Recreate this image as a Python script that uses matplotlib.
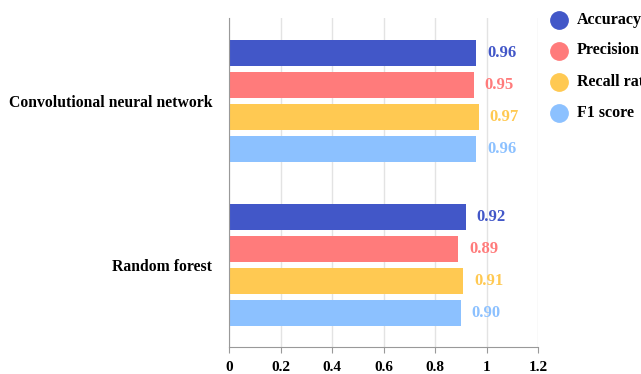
import matplotlib.pyplot as plt
from matplotlib.lines import Line2D

plt.rcParams['font.family'] = ['Liberation Serif', 'DejaVu Serif']
plt.rcParams['font.weight'] = 'bold'

models = ["Convolutional neural network", "Random forest"]
metrics = ["Accuracy", "Precision", "Recall rate", "F1 score"]
colors = ["#4257C8", "#FF7B7B", "#FFC952", "#8CC1FF"]
values = {
    "Accuracy": [0.96, 0.92],
    "Precision": [0.95, 0.89],
    "Recall rate": [0.97, 0.91],
    "F1 score": [0.96, 0.90],
}
xticks = [0, 0.2, 0.4, 0.6, 0.8, 1, 1.2]

fig = plt.figure(figsize=(6.41, 3.74), dpi=100)
ax = fig.add_axes([229 / 641, 1 - 347 / 374, 309 / 641, 329 / 374])

group_gap = 5.125
for k, m in enumerate(metrics):
    for g in range(len(models)):
        y = g * group_gap + k
        v = values[m][g]
        ax.barh(y, v, height=0.82, color=colors[k], zorder=2)
        ax.text(v + 0.042, y, f"{v:.2f}", color=colors[k], va="center",
                ha="left", fontsize=12, fontweight="bold")

ax.set_xlim(0, 1.2)
ax.set_ylim(9.19, -1.094)
ax.set_xticks(xticks)
ax.set_xticklabels([str(t) for t in xticks], fontsize=11, fontweight="bold")
ax.set_yticks([1.5, 1.5 + group_gap])
ax.set_yticklabels(models, fontsize=11.3, fontweight="bold")
ax.tick_params(axis="y", length=0, pad=12)
ax.tick_params(axis="x", length=4, color="#999999", pad=6)
ax.grid(axis="x", color="#e3e3e3", linewidth=1, zorder=0)
for s in ["top", "right"]:
    ax.spines[s].set_visible(False)
ax.spines["left"].set_color("#999999")
ax.spines["bottom"].set_color("#999999")

# legend placed by hand so the rows line up with the reference
legend_y = [20, 50.5, 82, 113]
for c, name, py in zip(colors, metrics, legend_y):
    yf = 1 - py / 374
    fig.add_artist(Line2D([559 / 641], [yf], marker="o", linestyle="",
                          markersize=12.5, markerfacecolor=c, markeredgecolor=c,
                          transform=fig.transFigure))
    fig.text(577 / 641, yf, name, va="center", ha="left",
             fontsize=11.5, fontweight="bold")

fig.savefig("out.png", dpi=100)
